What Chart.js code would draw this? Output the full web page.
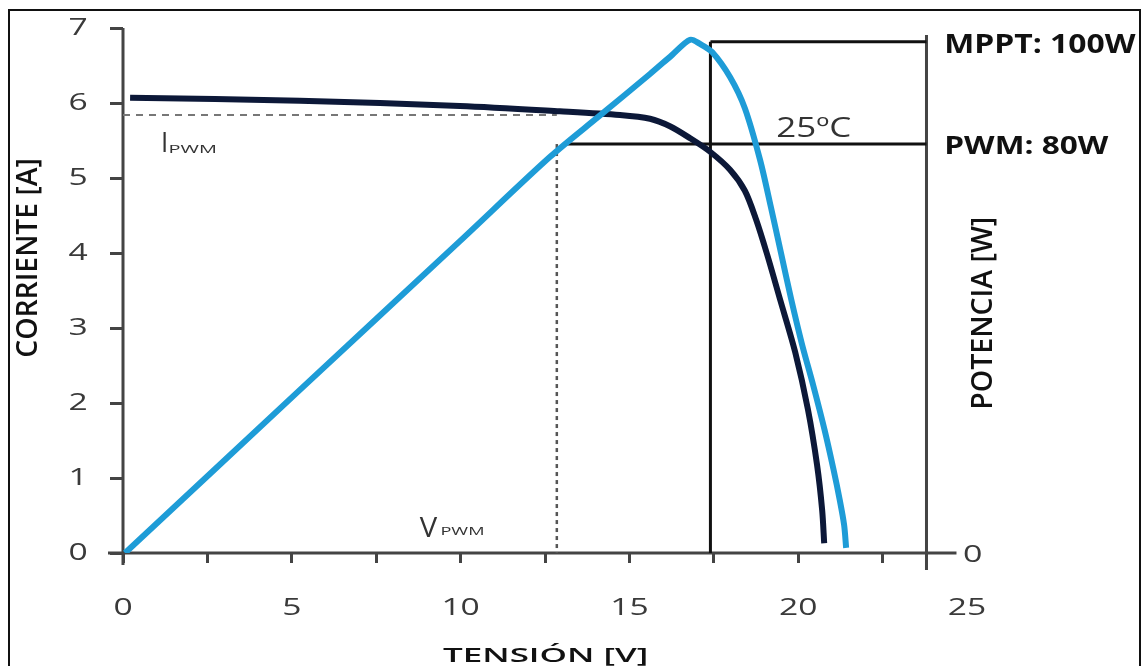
<!DOCTYPE html>
<html>
<head>
<meta charset="utf-8">
<script src="https://cdn.jsdelivr.net/npm/chart.js@4.4.0/dist/chart.umd.min.js"></script>
<style>
  html,body{margin:0;padding:0;background:#fff;}
  canvas{display:block;}
</style>
</head>
<body>
<canvas id="ivChart" width="1144" height="666"></canvas>
<script>
/* =========================================
   DATA
========================================= */

// curva I-V (corriente)
const curVolt = [0.21, 5.24, 9.98, 12.94, 14.72, 15.61, 16.20, 16.80, 17.39, 17.98, 18.42, 18.75, 19.08, 19.47, 19.91, 20.29, 20.56, 20.71, 20.77];
const curAmp  = [6.07, 6.03, 5.96, 5.89, 5.84, 5.79, 5.69, 5.53, 5.35, 5.11, 4.83, 4.45, 3.98, 3.37, 2.68, 1.91, 1.17, 0.57, 0.13];

// curva P-V (potencia)
const powVolt = [0.06, 5.24, 9.98, 12.65, 14.13, 15.61, 16.26, 16.80, 17.09, 17.45, 17.98, 18.42, 18.87, 19.19, 19.49, 19.79, 20.11, 20.44, 20.78, 21.05, 21.23, 21.36, 21.42];
const powWatt = [0, 31.9, 61.0, 77.5, 85.6, 93.7, 97.4, 100.4, 99.6, 98.0, 93.1, 87.0, 76.9, 67.7, 58.7, 49.7, 40.9, 32.9, 24.1, 16.2, 10.4, 5.5, 1.0];

// ticks
const xTickLabels = [0, 5, 10, 15, 20, 25];
const yTickLabels = [0, 1, 2, 3, 4, 5, 6, 7];
const powTickLabels = [0];

// referencias
const iPwm = 5.84;
const vPwm = 12.85;
const vMppt = 17.4;
const pMppt = 100;
const pPwm = 80;
const vAxisRight = 23.8;


/* =========================================
   TEXT HELPER
========================================= */

function fitText(ctx, txt, font, cx, cy, w, h, rot){

  ctx.save();
  ctx.font = font;
  const m = ctx.measureText(txt);
  const tw = m.actualBoundingBoxLeft + m.actualBoundingBoxRight;
  const th = m.actualBoundingBoxAscent + m.actualBoundingBoxDescent;
  ctx.translate(cx, cy);
  if(rot) ctx.rotate(-Math.PI/2);
  ctx.scale(w/tw, h/th);
  ctx.textAlign = 'left';
  ctx.textBaseline = 'alphabetic';
  ctx.fillText(txt, -tw/2 + m.actualBoundingBoxLeft, th/2 - m.actualBoundingBoxDescent);
  ctx.restore();

}

function wideText(ctx, txt, font, x, y, align){

  ctx.save();
  ctx.font = font;
  ctx.translate(x, y);
  ctx.scale(1.4, 1);
  ctx.textAlign = align;
  ctx.textBaseline = 'middle';
  ctx.fillText(txt, 0, 0);
  ctx.restore();

}


/* =========================================
   PLUGIN
========================================= */

const extras = {

  id:'extras',

  beforeDatasetsDraw(chart){

    const ctx = chart.ctx;
    const sx = chart.scales.x, sy = chart.scales.y, sp = chart.scales.y1;

    ctx.save();

    // ejes
    ctx.strokeStyle = '#444';
    ctx.lineWidth = 3;
    ctx.beginPath();
    ctx.moveTo(sx.getPixelForValue(0), sy.getPixelForValue(7));
    ctx.lineTo(sx.getPixelForValue(0), sy.getPixelForValue(0) + 12);
    ctx.moveTo(sx.getPixelForValue(0) - 15, sy.getPixelForValue(0));
    ctx.lineTo(sx.getPixelForValue(vAxisRight) + 30, sy.getPixelForValue(0));
    ctx.moveTo(sx.getPixelForValue(vAxisRight), sy.getPixelForValue(7) + 7);
    ctx.lineTo(sx.getPixelForValue(vAxisRight), sy.getPixelForValue(0) + 17);
    ctx.stroke();

    // I pwm (dashed)
    ctx.strokeStyle = '#777';
    ctx.lineWidth = 2;
    ctx.setLineDash([7,6]);
    ctx.beginPath();
    ctx.moveTo(sx.getPixelForValue(0), sy.getPixelForValue(iPwm));
    ctx.lineTo(sx.getPixelForValue(vPwm), sy.getPixelForValue(iPwm));
    ctx.stroke();

    // V pwm (dotted)
    ctx.strokeStyle = '#555';
    ctx.lineWidth = 2.5;
    ctx.setLineDash([4,4]);
    ctx.beginPath();
    ctx.moveTo(sx.getPixelForValue(vPwm), sp.getPixelForValue(pPwm));
    ctx.lineTo(sx.getPixelForValue(vPwm), sy.getPixelForValue(0));
    ctx.stroke();

    // MPPT / PWM
    ctx.setLineDash([]);
    ctx.strokeStyle = '#111';
    ctx.lineWidth = 3;
    ctx.beginPath();
    ctx.moveTo(sx.getPixelForValue(vMppt), sp.getPixelForValue(pMppt));
    ctx.lineTo(sx.getPixelForValue(vMppt), sy.getPixelForValue(0));
    ctx.moveTo(sx.getPixelForValue(vMppt), sp.getPixelForValue(pMppt));
    ctx.lineTo(sx.getPixelForValue(vAxisRight), sp.getPixelForValue(pMppt));
    ctx.moveTo(sx.getPixelForValue(vPwm + 0.25), sp.getPixelForValue(pPwm));
    ctx.lineTo(sx.getPixelForValue(vAxisRight), sp.getPixelForValue(pPwm));
    ctx.stroke();

    ctx.restore();

  },

  afterDraw(chart){

    const ctx = chart.ctx;
    const sx = chart.scales.x, sy = chart.scales.y, sp = chart.scales.y1;
    const x0 = sx.getPixelForValue(0), y0 = sy.getPixelForValue(0);

    ctx.save();

    // marco
    ctx.strokeStyle = '#111';
    ctx.lineWidth = 2;
    ctx.strokeRect(9, 10, 1131, 700);

    // tick labels
    ctx.fillStyle = '#3a3a3a';
    xTickLabels.forEach(v=>{
      wideText(ctx, String(v), '24px "Open Sans"', sx.getPixelForValue(v), y0 + 55, 'center');
    });
    yTickLabels.forEach(v=>{
      wideText(ctx, String(v), '24px "Open Sans"', x0 - 45, sy.getPixelForValue(v), 'center');
    });
    powTickLabels.forEach(v=>{
      fitText(ctx, String(v), '24px "Open Sans"', sx.getPixelForValue(vAxisRight) + 46.5, sp.getPixelForValue(v) + 0.5, 17, 17);
    });

    // anotaciones
    ctx.fillStyle = '#333';
    fitText(ctx, 'I', '26px "Open Sans"', x0 + 41.5, sy.getPixelForValue(iPwm) + 27.5, 3, 19);
    fitText(ctx, 'PWM', '26px "Open Sans"', x0 + 69.5, sy.getPixelForValue(iPwm) + 34.5, 45, 7);
    fitText(ctx, 'V', '26px "Open Sans"', sx.getPixelForValue(vPwm) - 128, y0 - 25.5, 18, 19);
    fitText(ctx, 'PWM', '26px "Open Sans"', sx.getPixelForValue(vPwm) - 94.5, y0 - 22, 41, 8);
    fitText(ctx, '25ºC', '28px "Open Sans"', sx.getPixelForValue(vMppt) + 103.5, sp.getPixelForValue(pPwm) - 17, 73, 20);

    ctx.fillStyle = '#111';
    const xr = sx.getPixelForValue(vAxisRight);
    fitText(ctx, 'MPPT: 100W', 'bold 28px "Open Sans"', xr + 115, sp.getPixelForValue(pMppt) + 1, 190, 20);
    fitText(ctx, 'PWM: 80W', 'bold 28px "Open Sans"', xr + 101.5, sp.getPixelForValue(pPwm) + 0.5, 163, 19);

    fitText(ctx, 'POTENCIA [W]', '600 26px "Open Sans"', xr + 58, sy.getPixelForValue(3.2), 189, 26, true);
    fitText(ctx, 'CORRIENTE [A]', '600 26px "Open Sans"', 30, sy.getPixelForValue(3.93), 197, 26, true);
    fitText(ctx, 'TENSIÓN [V]', '600 24px "Open Sans"', sx.getPixelForValue(12.5), y0 + 101, 204, 22);

    ctx.restore();

  }

};


/* =========================================
   CHART
========================================= */

const curData = curVolt.map((v,i)=>({x:v, y:curAmp[i]}));
const powData = powVolt.map((v,i)=>({x:v, y:powWatt[i]}));

new Chart(document.getElementById('ivChart'),{

  type:'scatter',

  data:{
    datasets:[
      {
        label:'Potencia',
        data:powData,
        yAxisID:'y1',
        showLine:true,
        borderColor:'#1e9cd7',
        borderWidth:6,
        pointRadius:0,
        tension:0.3,
        order:0
      },
      {
        label:'Corriente',
        data:curData,
        yAxisID:'y',
        showLine:true,
        borderColor:'#0c1838',
        borderWidth:6,
        pointRadius:0,
        tension:0.3,
        order:1
      }
    ]
  },

  options:{

    responsive:false,
    animation:false,
    events:[],

    layout:{
      padding:{top:28, right:177, left:0, bottom:0}
    },

    plugins:{
      legend:{display:false},
      tooltip:{enabled:false}
    },

    scales:{

      x:{
        type:'linear',
        min:0,
        max:25,
        ticks:{stepSize:2.5, display:false},
        border:{display:false},
        grid:{
          drawOnChartArea:false,
          drawTicks:true,
          tickLength:10,
          tickWidth:3,
          tickColor:(c)=> (c.tick && c.tick.value > 24) ? 'rgba(0,0,0,0)' : '#444'
        },
        afterFit:(s)=>{ s.height = 113; }
      },

      y:{
        type:'linear',
        position:'left',
        min:0,
        max:7,
        ticks:{stepSize:1, display:false},
        border:{display:false},
        grid:{
          drawOnChartArea:false,
          drawTicks:true,
          tickLength:13,
          tickWidth:3,
          tickColor:'#444'
        },
        afterFit:(s)=>{ s.width = 123; }
      },

      y1:{
        type:'linear',
        position:'right',
        min:0,
        max:102.7,
        display:false
      }

    }

  },

  plugins:[extras]

});
</script>
</body>
</html>
